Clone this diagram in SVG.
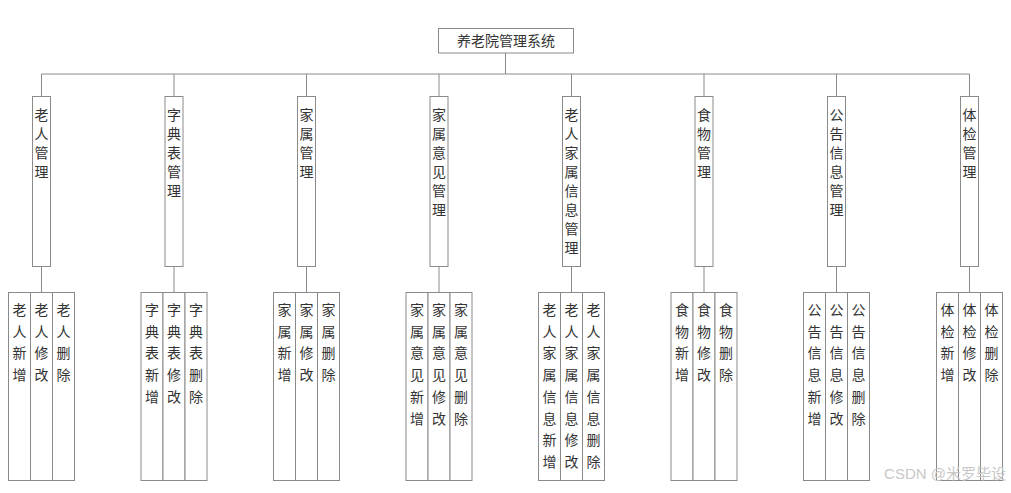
<svg xmlns="http://www.w3.org/2000/svg" width="1011" height="493" viewBox="0 0 1011 493">
<style>
rect{fill:#fff;stroke:#8a8a8a;stroke-width:1}
line{stroke:#8a8a8a;stroke-width:1}
text{font-family:"Noto Sans CJK SC",sans-serif;font-size:14px;fill:#333;text-anchor:middle}
.wm{font-size:15px;fill:#c8c8c8;text-anchor:end;font-family:"Liberation Sans","Noto Sans CJK SC",sans-serif}
</style>
<rect width="1011" height="493" style="stroke:none"/>
<g id="connectors">
<line x1="505.5" y1="53" x2="505.5" y2="74"/>
<line x1="41.5" y1="74" x2="969.5" y2="74"/>
<line x1="41.5" y1="74" x2="41.5" y2="96"/><line x1="41.5" y1="266" x2="41.5" y2="292"/>
<line x1="174" y1="74" x2="174" y2="96"/><line x1="174" y1="266" x2="174" y2="292"/>
<line x1="306.5" y1="74" x2="306.5" y2="96"/><line x1="306.5" y1="266" x2="306.5" y2="292"/>
<line x1="439" y1="74" x2="439" y2="96"/><line x1="439" y1="266" x2="439" y2="292"/>
<line x1="571.5" y1="74" x2="571.5" y2="96"/><line x1="571.5" y1="266" x2="571.5" y2="292"/>
<line x1="704" y1="74" x2="704" y2="96"/><line x1="704" y1="266" x2="704" y2="292"/>
<line x1="836.5" y1="74" x2="836.5" y2="96"/><line x1="836.5" y1="266" x2="836.5" y2="292"/>
<line x1="969.5" y1="74" x2="969.5" y2="96"/><line x1="969.5" y1="266" x2="969.5" y2="292"/>
</g>
<g id="root"><rect x="438.5" y="28.5" width="135" height="24.5"/><text x="506" y="46">养老院管理系统</text></g>
<g id="n1"><rect x="32.5" y="96.5" width="18" height="170"/><text x="41.5" y="120"><tspan x="41.5">老</tspan><tspan x="41.5" dy="19">人</tspan><tspan x="41.5" dy="19">管</tspan><tspan x="41.5" dy="19">理</tspan></text></g>
<g id="n2"><rect x="165" y="96.5" width="18" height="170"/><text x="174" y="120"><tspan x="174">字</tspan><tspan x="174" dy="19">典</tspan><tspan x="174" dy="19">表</tspan><tspan x="174" dy="19">管</tspan><tspan x="174" dy="19">理</tspan></text></g>
<g id="n3"><rect x="297.5" y="96.5" width="18" height="170"/><text x="306.5" y="120"><tspan x="306.5">家</tspan><tspan x="306.5" dy="19">属</tspan><tspan x="306.5" dy="19">管</tspan><tspan x="306.5" dy="19">理</tspan></text></g>
<g id="n4"><rect x="430" y="96.5" width="18" height="170"/><text x="439" y="120"><tspan x="439">家</tspan><tspan x="439" dy="19">属</tspan><tspan x="439" dy="19">意</tspan><tspan x="439" dy="19">见</tspan><tspan x="439" dy="19">管</tspan><tspan x="439" dy="19">理</tspan></text></g>
<g id="n5"><rect x="562.5" y="96.5" width="18" height="170"/><text x="571.5" y="120"><tspan x="571.5">老</tspan><tspan x="571.5" dy="19">人</tspan><tspan x="571.5" dy="19">家</tspan><tspan x="571.5" dy="19">属</tspan><tspan x="571.5" dy="19">信</tspan><tspan x="571.5" dy="19">息</tspan><tspan x="571.5" dy="19">管</tspan><tspan x="571.5" dy="19">理</tspan></text></g>
<g id="n6"><rect x="695" y="96.5" width="18" height="170"/><text x="704" y="120"><tspan x="704">食</tspan><tspan x="704" dy="19">物</tspan><tspan x="704" dy="19">管</tspan><tspan x="704" dy="19">理</tspan></text></g>
<g id="n7"><rect x="827.5" y="96.5" width="18" height="170"/><text x="836.5" y="120"><tspan x="836.5">公</tspan><tspan x="836.5" dy="19">告</tspan><tspan x="836.5" dy="19">信</tspan><tspan x="836.5" dy="19">息</tspan><tspan x="836.5" dy="19">管</tspan><tspan x="836.5" dy="19">理</tspan></text></g>
<g id="n8"><rect x="960.5" y="96.5" width="18" height="170"/><text x="969.5" y="120"><tspan x="969.5">体</tspan><tspan x="969.5" dy="19">检</tspan><tspan x="969.5" dy="19">管</tspan><tspan x="969.5" dy="19">理</tspan></text></g>

<g id="n1a"><rect x="8.5" y="292.5" width="22" height="188"/><text y="315"><tspan x="19.5">老</tspan><tspan x="19.5" dy="21.7">人</tspan><tspan x="19.5" dy="21.7">新</tspan><tspan x="19.5" dy="21.7">增</tspan></text></g>
<g id="n1b"><rect x="30.5" y="292.5" width="22" height="188"/><text y="315"><tspan x="41.5">老</tspan><tspan x="41.5" dy="21.7">人</tspan><tspan x="41.5" dy="21.7">修</tspan><tspan x="41.5" dy="21.7">改</tspan></text></g>
<g id="n1c"><rect x="52.5" y="292.5" width="22" height="188"/><text y="315"><tspan x="63.5">老</tspan><tspan x="63.5" dy="21.7">人</tspan><tspan x="63.5" dy="21.7">删</tspan><tspan x="63.5" dy="21.7">除</tspan></text></g>

<g id="n2a"><rect x="141" y="292.5" width="22" height="188"/><text y="315"><tspan x="152">字</tspan><tspan x="152" dy="21.7">典</tspan><tspan x="152" dy="21.7">表</tspan><tspan x="152" dy="21.7">新</tspan><tspan x="152" dy="21.7">增</tspan></text></g>
<g id="n2b"><rect x="163" y="292.5" width="22" height="188"/><text y="315"><tspan x="174">字</tspan><tspan x="174" dy="21.7">典</tspan><tspan x="174" dy="21.7">表</tspan><tspan x="174" dy="21.7">修</tspan><tspan x="174" dy="21.7">改</tspan></text></g>
<g id="n2c"><rect x="185" y="292.5" width="22" height="188"/><text y="315"><tspan x="196">字</tspan><tspan x="196" dy="21.7">典</tspan><tspan x="196" dy="21.7">表</tspan><tspan x="196" dy="21.7">删</tspan><tspan x="196" dy="21.7">除</tspan></text></g>

<g id="n3a"><rect x="273.5" y="292.5" width="22" height="188"/><text y="315"><tspan x="284.5">家</tspan><tspan x="284.5" dy="21.7">属</tspan><tspan x="284.5" dy="21.7">新</tspan><tspan x="284.5" dy="21.7">增</tspan></text></g>
<g id="n3b"><rect x="295.5" y="292.5" width="22" height="188"/><text y="315"><tspan x="306.5">家</tspan><tspan x="306.5" dy="21.7">属</tspan><tspan x="306.5" dy="21.7">修</tspan><tspan x="306.5" dy="21.7">改</tspan></text></g>
<g id="n3c"><rect x="317.5" y="292.5" width="22" height="188"/><text y="315"><tspan x="328.5">家</tspan><tspan x="328.5" dy="21.7">属</tspan><tspan x="328.5" dy="21.7">删</tspan><tspan x="328.5" dy="21.7">除</tspan></text></g>

<g id="n4a"><rect x="406" y="292.5" width="22" height="188"/><text y="315"><tspan x="417">家</tspan><tspan x="417" dy="21.7">属</tspan><tspan x="417" dy="21.7">意</tspan><tspan x="417" dy="21.7">见</tspan><tspan x="417" dy="21.7">新</tspan><tspan x="417" dy="21.7">增</tspan></text></g>
<g id="n4b"><rect x="428" y="292.5" width="22" height="188"/><text y="315"><tspan x="439">家</tspan><tspan x="439" dy="21.7">属</tspan><tspan x="439" dy="21.7">意</tspan><tspan x="439" dy="21.7">见</tspan><tspan x="439" dy="21.7">修</tspan><tspan x="439" dy="21.7">改</tspan></text></g>
<g id="n4c"><rect x="450" y="292.5" width="22" height="188"/><text y="315"><tspan x="461">家</tspan><tspan x="461" dy="21.7">属</tspan><tspan x="461" dy="21.7">意</tspan><tspan x="461" dy="21.7">见</tspan><tspan x="461" dy="21.7">删</tspan><tspan x="461" dy="21.7">除</tspan></text></g>

<g id="n5a"><rect x="538.5" y="292.5" width="22" height="188"/><text y="315"><tspan x="549.5">老</tspan><tspan x="549.5" dy="21.7">人</tspan><tspan x="549.5" dy="21.7">家</tspan><tspan x="549.5" dy="21.7">属</tspan><tspan x="549.5" dy="21.7">信</tspan><tspan x="549.5" dy="21.7">息</tspan><tspan x="549.5" dy="21.7">新</tspan><tspan x="549.5" dy="21.7">增</tspan></text></g>
<g id="n5b"><rect x="560.5" y="292.5" width="22" height="188"/><text y="315"><tspan x="571.5">老</tspan><tspan x="571.5" dy="21.7">人</tspan><tspan x="571.5" dy="21.7">家</tspan><tspan x="571.5" dy="21.7">属</tspan><tspan x="571.5" dy="21.7">信</tspan><tspan x="571.5" dy="21.7">息</tspan><tspan x="571.5" dy="21.7">修</tspan><tspan x="571.5" dy="21.7">改</tspan></text></g>
<g id="n5c"><rect x="582.5" y="292.5" width="22" height="188"/><text y="315"><tspan x="593.5">老</tspan><tspan x="593.5" dy="21.7">人</tspan><tspan x="593.5" dy="21.7">家</tspan><tspan x="593.5" dy="21.7">属</tspan><tspan x="593.5" dy="21.7">信</tspan><tspan x="593.5" dy="21.7">息</tspan><tspan x="593.5" dy="21.7">删</tspan><tspan x="593.5" dy="21.7">除</tspan></text></g>

<g id="n6a"><rect x="671" y="292.5" width="22" height="188"/><text y="315"><tspan x="682">食</tspan><tspan x="682" dy="21.7">物</tspan><tspan x="682" dy="21.7">新</tspan><tspan x="682" dy="21.7">增</tspan></text></g>
<g id="n6b"><rect x="693" y="292.5" width="22" height="188"/><text y="315"><tspan x="704">食</tspan><tspan x="704" dy="21.7">物</tspan><tspan x="704" dy="21.7">修</tspan><tspan x="704" dy="21.7">改</tspan></text></g>
<g id="n6c"><rect x="715" y="292.5" width="22" height="188"/><text y="315"><tspan x="726">食</tspan><tspan x="726" dy="21.7">物</tspan><tspan x="726" dy="21.7">删</tspan><tspan x="726" dy="21.7">除</tspan></text></g>

<g id="n7a"><rect x="803.5" y="292.5" width="22" height="188"/><text y="315"><tspan x="814.5">公</tspan><tspan x="814.5" dy="21.7">告</tspan><tspan x="814.5" dy="21.7">信</tspan><tspan x="814.5" dy="21.7">息</tspan><tspan x="814.5" dy="21.7">新</tspan><tspan x="814.5" dy="21.7">增</tspan></text></g>
<g id="n7b"><rect x="825.5" y="292.5" width="22" height="188"/><text y="315"><tspan x="836.5">公</tspan><tspan x="836.5" dy="21.7">告</tspan><tspan x="836.5" dy="21.7">信</tspan><tspan x="836.5" dy="21.7">息</tspan><tspan x="836.5" dy="21.7">修</tspan><tspan x="836.5" dy="21.7">改</tspan></text></g>
<g id="n7c"><rect x="847.5" y="292.5" width="22" height="188"/><text y="315"><tspan x="858.5">公</tspan><tspan x="858.5" dy="21.7">告</tspan><tspan x="858.5" dy="21.7">信</tspan><tspan x="858.5" dy="21.7">息</tspan><tspan x="858.5" dy="21.7">删</tspan><tspan x="858.5" dy="21.7">除</tspan></text></g>

<g id="n8a"><rect x="936.5" y="292.5" width="22" height="188"/><text y="315"><tspan x="947.5">体</tspan><tspan x="947.5" dy="21.7">检</tspan><tspan x="947.5" dy="21.7">新</tspan><tspan x="947.5" dy="21.7">增</tspan></text></g>
<g id="n8b"><rect x="958.5" y="292.5" width="22" height="188"/><text y="315"><tspan x="969.5">体</tspan><tspan x="969.5" dy="21.7">检</tspan><tspan x="969.5" dy="21.7">修</tspan><tspan x="969.5" dy="21.7">改</tspan></text></g>
<g id="n8c"><rect x="980.5" y="292.5" width="22" height="188"/><text y="315"><tspan x="991.5">体</tspan><tspan x="991.5" dy="21.7">检</tspan><tspan x="991.5" dy="21.7">删</tspan><tspan x="991.5" dy="21.7">除</tspan></text></g>

<text class="wm" x="1006" y="479">CSDN @米罗毕设</text>
</svg>
